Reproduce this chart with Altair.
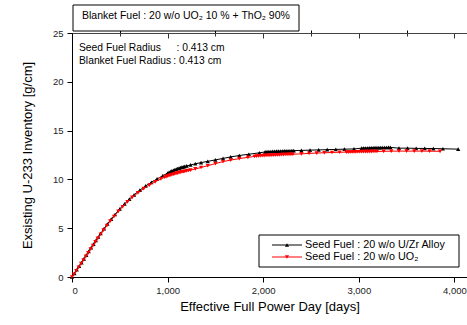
import altair as alt
import pandas as pd

# ---------------- data ----------------
black_days = [0, 25, 50, 75, 100, 125, 150, 175, 200, 225, 250, 275, 300, 335, 370, 410, 450, 500,
              550, 600, 650, 710, 770, 830, 890, 950, 1000, 1015, 1030, 1045, 1060, 1075, 1090, 1105,
              1120, 1135, 1150, 1165, 1180, 1200, 1240, 1290, 1350, 1420, 1500, 1580, 1660, 1750,
              1850, 1960, 2020, 2040, 2060, 2080, 2100, 2120, 2140, 2160, 2180, 2200, 2220, 2240,
              2260, 2280, 2300, 2320, 2400, 2490, 2580, 2670, 2760, 2850, 2950, 3030, 3050, 3070,
              3090, 3110, 3130, 3150, 3170, 3190, 3210, 3230, 3250, 3270, 3290, 3310, 3330, 3420,
              3510, 3600, 3690, 3780, 3880, 4040]
black_u233 = [0.0, 0.37, 0.74, 1.11, 1.48, 1.86, 2.24, 2.62, 3.0, 3.37, 3.74, 4.1, 4.46, 4.95, 5.43,
              5.93, 6.4, 6.98, 7.5, 7.98, 8.42, 8.9, 9.33, 9.7, 10.05, 10.38, 10.65, 10.73, 10.8,
              10.87, 10.93, 10.99, 11.05, 11.1, 11.15, 11.2, 11.25, 11.29, 11.33, 11.38, 11.48, 11.6,
              11.72, 11.85, 12.0, 12.15, 12.3, 12.45, 12.58, 12.72, 12.82, 12.84, 12.85, 12.86,
              12.87, 12.88, 12.89, 12.9, 12.9, 12.91, 12.92, 12.92, 12.93, 12.93, 12.94, 12.95,
              12.97, 13.0, 13.02, 13.05, 13.07, 13.1, 13.12, 13.2, 13.21, 13.22, 13.22, 13.23,
              13.24, 13.24, 13.25, 13.25, 13.26, 13.26, 13.27, 13.27, 13.27, 13.28, 13.28, 13.2,
              13.2, 13.18, 13.17, 13.16, 13.14, 13.1]

red_days = [0, 20, 45, 70, 95, 120, 145, 170, 195, 220, 245, 270, 300, 330, 365, 400, 440, 485,
            530, 580, 630, 690, 750, 810, 870, 930, 970, 985, 1000, 1015, 1030, 1045, 1060, 1075,
            1090, 1105, 1120, 1135, 1150, 1165, 1180, 1200, 1220, 1240, 1290, 1350, 1420, 1500,
            1580, 1660, 1750, 1840, 1910, 1930, 1950, 1970, 1990, 2010, 2030, 2050, 2070, 2090,
            2110, 2130, 2150, 2170, 2190, 2210, 2230, 2250, 2270, 2290, 2310, 2400, 2480, 2560,
            2640, 2720, 2800, 2870, 2890, 2910, 2930, 2950, 2970, 2990, 3010, 3030, 3050, 3070,
            3090, 3110, 3130, 3150, 3170, 3190, 3260, 3340, 3420, 3500, 3580, 3660, 3740, 3850]
red_u233 = [0.0, 0.28, 0.64, 1.0, 1.37, 1.74, 2.11, 2.48, 2.86, 3.23, 3.6, 3.96, 4.38, 4.8, 5.27,
            5.72, 6.2, 6.72, 7.2, 7.7, 8.15, 8.62, 9.05, 9.42, 9.75, 10.05, 10.22, 10.28, 10.33,
            10.38, 10.43, 10.48, 10.53, 10.57, 10.61, 10.65, 10.69, 10.73, 10.77, 10.8, 10.83,
            10.87, 10.91, 10.95, 11.07, 11.22, 11.4, 11.62, 11.82, 11.98, 12.13, 12.26, 12.35,
            12.38, 12.4, 12.42, 12.43, 12.44, 12.45, 12.46, 12.47, 12.48, 12.49, 12.5, 12.51,
            12.52, 12.53, 12.54, 12.55, 12.55, 12.56, 12.57, 12.58, 12.62, 12.66, 12.7, 12.73,
            12.76, 12.78, 12.8, 12.8, 12.81, 12.81, 12.82, 12.82, 12.83, 12.83, 12.84, 12.84,
            12.84, 12.85, 12.85, 12.85, 12.86, 12.86, 12.86, 12.88, 12.89, 12.9, 12.9, 12.9, 12.9,
            12.89, 12.88]

series_labels = ["Seed Fuel : 20 w/o U/Zr Alloy", "Seed Fuel : 20 w/o UO\u2082"]
series_colors = ["black", "red"]
series_shapes = ["triangle-up", "triangle-down"]
header_text = "Blanket Fuel : 20 w/o UO\u2082 10 % +  ThO\u2082 90%"
radius_labels = ["Seed Fuel Radius", "Blanket Fuel Radius"]
radius_values = [": 0.413 cm", ": 0.413 cm"]

x_major = [0, 1000, 2000, 3000, 4000]
x_minor = [500, 1500, 2500, 3500]
y_major = [0, 5, 10, 15, 20, 25]
y_minor = [2.5, 7.5, 12.5, 17.5, 22.5]

black_df = pd.DataFrame({"days": black_days, "u233": black_u233})
red_df = pd.DataFrame({"days": red_days, "u233": red_u233})

FONT = "Liberation Sans"
W, H = 395, 244
xs = alt.Scale(domain=[0, 4132], nice=False, zero=False)
ys = alt.Scale(domain=[0, 25], nice=False)


def noax_x():
    return alt.X("days:Q", scale=xs, axis=None)


def noax_y():
    return alt.Y("u233:Q", scale=ys, axis=None)


# main line with primary axes
black_line = alt.Chart(black_df).mark_line(color="black", strokeWidth=1, clip=True).encode(
    x=alt.X("days:Q", scale=xs, axis=alt.Axis(
        values=x_major, format=",d", tickSize=5, tickColor="black", domainColor="black",
        labelFontSize=9.5, labelColor="#222", labelPadding=3, labelFont=FONT,
        title="Effective Full Power Day [days]", titleFont=FONT, titleFontSize=13,
        titleFontWeight="normal", titleColor="black", titlePadding=6, grid=False)),
    y=alt.Y("u233:Q", scale=ys, axis=alt.Axis(
        values=y_major, tickSize=5, tickColor="black", domainColor="black",
        labelFontSize=9.5, labelColor="#222", labelPadding=4, labelFont=FONT,
        title="Exsisting U-233 Inventory [g/cm]", titleFont=FONT, titleFontSize=13,
        titleFontWeight="normal", titleColor="black", titlePadding=18, grid=False)),
)
black_pts = alt.Chart(black_df).mark_point(shape="triangle-up", filled=True, color="black",
                                           size=18, opacity=1).encode(x=noax_x(), y=noax_y())
red_line = alt.Chart(red_df).mark_line(color="red", strokeWidth=1, clip=True).encode(
    x=noax_x(), y=noax_y())
red_pts = alt.Chart(red_df).mark_point(shape="triangle-down", filled=True, color="red",
                                       size=18, opacity=1).encode(x=noax_x(), y=noax_y())

# minor ticks bottom/left
minor = alt.Chart(black_df).mark_point(opacity=0).encode(
    x=alt.X("days:Q", scale=xs, axis=alt.Axis(values=x_minor, tickSize=3, tickColor="black",
                                              labels=False, domain=False, title=None, grid=False)),
    y=alt.Y("u233:Q", scale=ys, axis=alt.Axis(values=y_minor, tickSize=3, tickColor="black",
                                              labels=False, domain=False, title=None, grid=False)),
)
# top axis line
top_dom = alt.Chart(black_df).mark_point(opacity=0).encode(
    x=alt.X("days:Q", scale=xs, axis=alt.Axis(orient="top", ticks=False, labels=False,
                                              domainColor="#444", title=None, grid=False)),
    y=noax_y(),
)
top_major = alt.Chart(black_df).mark_point(opacity=0).encode(
    x=alt.X("days:Q", scale=xs, axis=alt.Axis(orient="top", values=x_major, tickSize=5, offset=-5,
                                              tickColor="#333", labels=False, domain=False,
                                              title=None, grid=False)),
    y=noax_y(),
)
top_minor = alt.Chart(black_df).mark_point(opacity=0).encode(
    x=alt.X("days:Q", scale=xs, axis=alt.Axis(orient="top", values=x_minor, tickSize=3, offset=-3,
                                              tickColor="#333", labels=False, domain=False,
                                              title=None, grid=False)),
    y=noax_y(),
)

# header box
one = pd.DataFrame({"t": [header_text]})
header_box = alt.Chart(one).mark_rect(fill="white", stroke="black", strokeWidth=1).encode(
    x=alt.value(1), x2=alt.value(227), y=alt.value(-28), y2=alt.value(-2))
header_txt = alt.Chart(one).mark_text(font=FONT, fontSize=10.5, align="left", baseline="middle",
                                      color="black").encode(
    x=alt.value(10), y=alt.value(-17), text="t:N")

layers = [black_line, black_pts, red_line, red_pts, minor, top_dom, top_major, top_minor,
          header_box, header_txt]

# radius annotation
rad_rows = [14.5, 27.8]
rad_colon = [104.5, 101.3]
for i in range(2):
    d = pd.DataFrame({"lab": [radius_labels[i]], "val": [radius_values[i]]})
    layers.append(alt.Chart(d).mark_text(font=FONT, fontSize=10.3, align="left", baseline="middle",
                                         color="black").encode(
        x=alt.value(7), y=alt.value(rad_rows[i]), text="lab:N"))
    layers.append(alt.Chart(d).mark_text(font=FONT, fontSize=10.3, align="left", baseline="middle",
                                         color="black").encode(
        x=alt.value(rad_colon[i]), y=alt.value(rad_rows[i]), text="val:N"))

# legend
layers.append(alt.Chart(one).mark_rect(fill="white", stroke="black", strokeWidth=1).encode(
    x=alt.value(187), x2=alt.value(387), y=alt.value(202), y2=alt.value(234)))
leg_rows = [212, 224]
for i in range(2):
    d = pd.DataFrame({"lab": [series_labels[i]]})
    layers.append(alt.Chart(d).mark_rule(strokeWidth=1, color=series_colors[i]).encode(
        x=alt.value(200), x2=alt.value(230), y=alt.value(leg_rows[i])))
    layers.append(alt.Chart(d).mark_point(filled=True, size=18, opacity=1,
                                          color=series_colors[i], shape=series_shapes[i]).encode(
        x=alt.value(215), y=alt.value(leg_rows[i])))
    layers.append(alt.Chart(d).mark_text(font=FONT, fontSize=10.8, align="left", baseline="middle",
                                         color="black").encode(
        x=alt.value(233), y=alt.value(leg_rows[i]), text="lab:N"))

chart = alt.layer(*layers).resolve_axis(x="independent", y="independent").properties(
    width=W, height=H,
    autosize=alt.AutoSizeParams(type="none"),
    padding={"left": 72, "top": 33, "right": 0, "bottom": 48},
    background="white",
).configure_view(stroke=None)

chart.save("out.html", embed_options={"renderer": "svg", "actions": False})
